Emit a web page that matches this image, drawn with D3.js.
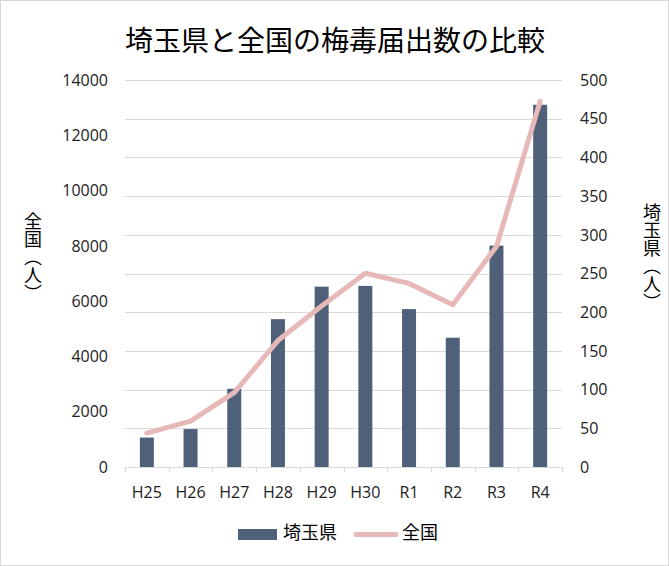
<!DOCTYPE html>
<html>
<head>
<meta charset="utf-8">
<script src="https://cdn.jsdelivr.net/npm/d3@7"></script>
<style>
  html, body { margin: 0; padding: 0; background: #fff; }
  svg { display: block; }
</style>
</head>
<body>
<svg id="chart" width="669" height="566"></svg>
<script>
const categories = ["H25", "H26", "H27", "H28", "H29", "H30", "R1", "R2", "R3", "R4"];
const saitamaValues = [38, 49, 101, 191, 233, 234, 204, 167, 286, 468];
const nationalValues = [1228, 1661, 2690, 4575, 5826, 7007, 6642, 5867, 7978, 13228];
const leftTicks = [0, 2000, 4000, 6000, 8000, 10000, 12000, 14000];
const rightTicks = [0, 50, 100, 150, 200, 250, 300, 350, 400, 450, 500];
const titleText = "埼玉県と全国の梅毒届出数の比較";
const leftAxisTitle = "全国（人）";
const rightAxisTitle = "埼玉県（人）";
const seriesNames = ["埼玉県", "全国"];

const barColor = "#4f6079";
const lineColor = "#e6b9b8";
const gridColor = "#d9d9d9";
const textColor = "#222222";
const latinFont = "'Open Sans', 'Liberation Sans', sans-serif";
const cjkFont = "'Noto Sans CJK JP', sans-serif";

const svg = d3.select("#chart");

// outer border
svg.append("rect").attr("x", 0.5).attr("y", 0.5).attr("width", 668).attr("height", 565)
  .attr("fill", "#fff").attr("stroke", gridColor).attr("stroke-width", 1);

const plotLeft = 125, plotRight = 562, plotTop = 80, plotBottom = 467;

const x = d3.scaleBand().domain(categories).range([plotLeft, plotRight]).padding(0);
const yL = d3.scaleLinear().domain([0, 14000]).range([plotBottom, plotTop]);
const yR = d3.scaleLinear().domain([0, 500]).range([plotBottom, plotTop]);

// gridlines (right axis ticks)
svg.append("g").selectAll("line").data(rightTicks).join("line")
  .attr("x1", plotLeft).attr("x2", plotRight)
  .attr("y1", d => Math.round(yR(d)) + 0.5).attr("y2", d => Math.round(yR(d)) + 0.5)
  .attr("stroke", gridColor).attr("stroke-width", 1);

// category tick marks
const tickXs = categories.map(c => x(c)).concat([plotRight]);
svg.append("g").selectAll("line").data(tickXs).join("line")
  .attr("x1", d => Math.round(d) + 0.5).attr("x2", d => Math.round(d) + 0.5)
  .attr("y1", plotBottom).attr("y2", plotBottom + 5)
  .attr("stroke", gridColor).attr("stroke-width", 1);

// bars (Saitama, right axis)
const barW = x.bandwidth() * 0.32;
svg.append("g").selectAll("rect").data(categories).join("rect")
  .attr("x", (c) => x(c) + x.bandwidth() / 2 - barW / 2)
  .attr("width", barW)
  .attr("y", (c, i) => yR(saitamaValues[i]))
  .attr("height", (c, i) => plotBottom - yR(saitamaValues[i]))
  .attr("fill", barColor);

// line (national, left axis)
const line = d3.line()
  .x((d, i) => x(categories[i]) + x.bandwidth() / 2)
  .y(d => yL(d));
svg.append("path").datum(nationalValues)
  .attr("d", line)
  .attr("fill", "none").attr("stroke", lineColor).attr("stroke-width", 5)
  .attr("stroke-linejoin", "round").attr("stroke-linecap", "round");

// left tick labels
svg.append("g").selectAll("text").data(leftTicks).join("text")
  .attr("x", 108).attr("y", d => yL(d)).attr("dy", "0.36em")
  .attr("text-anchor", "end")
  .attr("font-family", latinFont).attr("font-size", 16).attr("fill", textColor)
  .text(d => d);

// right tick labels
svg.append("g").selectAll("text").data(rightTicks).join("text")
  .attr("x", 580).attr("y", d => yR(d)).attr("dy", "0.36em")
  .attr("text-anchor", "start")
  .attr("font-family", latinFont).attr("font-size", 16).attr("fill", textColor)
  .text(d => d);

// x labels
svg.append("g").selectAll("text").data(categories).join("text")
  .attr("x", c => x(c) + x.bandwidth() / 2).attr("y", 498)
  .attr("text-anchor", "middle")
  .attr("font-family", latinFont).attr("font-size", 16).attr("fill", textColor)
  .text(c => c);

// title
svg.append("text").attr("x", 335).attr("y", 51)
  .attr("text-anchor", "middle")
  .attr("font-family", cjkFont).attr("font-size", 28).attr("fill", "#000")
  .text(titleText);

// axis titles (vertical)
svg.append("text").attr("x", 33).attr("y", 257)
  .attr("writing-mode", "vertical-rl").style("writing-mode", "vertical-rl")
  .attr("text-anchor", "middle")
  .attr("font-family", cjkFont).attr("font-size", 18).attr("fill", "#000")
  .text(leftAxisTitle);
svg.append("text").attr("x", 652).attr("y", 257)
  .attr("writing-mode", "vertical-rl").style("writing-mode", "vertical-rl")
  .attr("text-anchor", "middle")
  .attr("font-family", cjkFont).attr("font-size", 18).attr("fill", "#000")
  .text(rightAxisTitle);

// legend
svg.append("rect").attr("x", 238).attr("y", 529).attr("width", 39).attr("height", 11).attr("fill", barColor);
svg.append("text").attr("x", 283).attr("y", 539)
  .attr("font-family", cjkFont).attr("font-size", 18).attr("fill", "#000")
  .text(seriesNames[0]);
svg.append("line").attr("x1", 356).attr("x2", 396).attr("y1", 534.5).attr("y2", 534.5)
  .attr("stroke", lineColor).attr("stroke-width", 5).attr("stroke-linecap", "round");
svg.append("text").attr("x", 402).attr("y", 539)
  .attr("font-family", cjkFont).attr("font-size", 18).attr("fill", "#000")
  .text(seriesNames[1]);
</script>
</body>
</html>
